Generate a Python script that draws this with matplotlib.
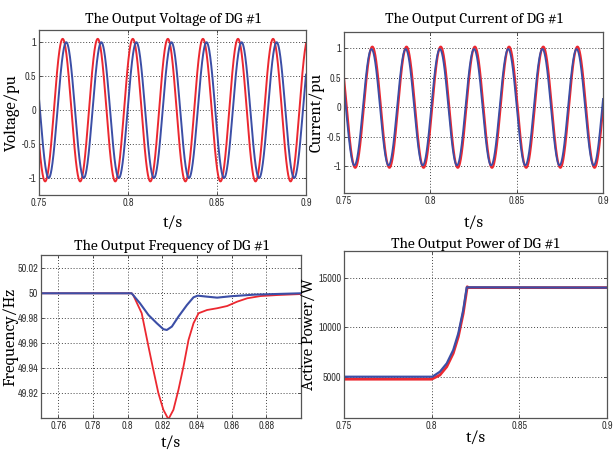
import matplotlib
matplotlib.use("Agg")
import matplotlib.pyplot as plt
import numpy as np

# --- scope traces -------------------------------------------------------
# sinusoids: (amplitude, time of first positive peak, period) per trace
volt_red = dict(amp=1.05, t_peak=0.7633, period=0.0197)
volt_blue = dict(amp=1.00, t_peak=0.7653, period=0.0197)
curr_red = dict(amp=1.03, t_peak=0.7664, period=0.0198)
curr_blue = dict(amp=0.99, t_peak=0.7659, period=0.0198)

freq_t_blue = [0.75, 0.8023, 0.8071, 0.8120, 0.8168, 0.8206, 0.8226, 0.8255,
               0.8293, 0.8342, 0.8380, 0.8404, 0.8458, 0.8516, 0.8593, 0.8728, 0.90]
freq_blue = [50.0, 50.0, 49.992, 49.9826, 49.976, 49.9712, 49.9706, 49.9733,
             49.9813, 49.9906, 49.9968, 49.9981, 49.9973, 49.9965, 49.9976, 49.9989, 50.0]
freq_t_red = [0.75, 0.8023, 0.8032, 0.8081, 0.8120, 0.8148, 0.8177, 0.8206, 0.8235,
              0.8264, 0.8293, 0.8322, 0.8351, 0.8380, 0.8409, 0.8458, 0.8516, 0.8574,
              0.8632, 0.8690, 0.8767, 0.8864, 0.90]
freq_red = [50.0, 50.0, 49.9986, 49.984, 49.9573, 49.9386, 49.920, 49.9066, 49.899,
            49.9066, 49.9226, 49.9413, 49.9626, 49.976, 49.984, 49.9866, 49.988, 49.9898,
            49.9933, 49.996, 49.9978, 49.9986, 49.9994]

pow_t_blue = [0.75, 0.8004, 0.8047, 0.8086, 0.8123, 0.8152, 0.8180, 0.8200, 0.90]
pow_blue = [5000, 5000, 5505, 6350, 7700, 9380, 11740, 14030, 14000]
pow_t_red = [0.75, 0.8000, 0.8047, 0.8086, 0.8123, 0.8152, 0.8180, 0.8203, 0.8210, 0.90]
pow_red = [4750, 4750, 5170, 6010, 7360, 9040, 11400, 14090, 14000, 14000]

titles = ["The Output Voltage of DG #1", "The Output Current of DG #1",
          "The Output Frequency of DG #1", "The Output Power of DG #1"]
ylabels = ["Voltage/pu", "Current/pu", "Frequency/Hz", "Active Power/W"]

RED = "#ec2830"
BLUE = "#3b4ea6"
SERIF = ["Caladea", "DejaVu Serif"]
TICKFONT = ["Pragati Narrow", "PT Sans Narrow", "DejaVu Sans"]

W, H = 615, 451


def wave(p, t):
    return p["amp"] * np.cos(2 * np.pi * (t - p["t_peak"]) / p["period"])


def style(ax, xt, xl, yt, yl, xlim, ylim):
    ax.set_xlim(*xlim)
    ax.set_ylim(*ylim)
    ax.set_xticks(xt)
    ax.set_xticklabels(xl, family=TICKFONT, fontsize=8)
    ax.set_yticks(yt)
    ax.set_yticklabels(yl, family=TICKFONT, fontsize=8)
    ax.grid(True, linestyle=(0, (1, 2)), color="#444444", linewidth=0.7)
    ax.tick_params(direction="in", length=2, width=0.6, colors="#333333",
                   top=True, right=True, pad=2)
    for s in ax.spines.values():
        s.set_color("#555555")
        s.set_linewidth(0.9)


def box(l, t, r, b):
    return [l / W, 1 - b / H, (r - l) / W, (b - t) / H]


fig = plt.figure(figsize=(6.15, 4.51), dpi=100)
ax1 = fig.add_axes(box(39, 30, 306, 195))
ax2 = fig.add_axes(box(344, 32, 603, 193))
ax3 = fig.add_axes(box(41, 255, 301, 418))
ax4 = fig.add_axes(box(344, 251, 607, 418))

t = np.linspace(0.75, 0.9, 3001)

ax1.plot(t, wave(volt_red, t), color=RED, lw=1.4)
ax1.plot(t, wave(volt_blue, t), color=BLUE, lw=1.4)
style(ax1, [0.75, 0.8, 0.85, 0.9], ["0.75", "0.8", "0.85", "0.9"],
      [-1, -0.5, 0, 0.5, 1], ["-1", "-0.5", "0", "0.5", "1"], (0.75, 0.9), (-1.25, 1.18))

ax2.plot(t, wave(curr_red, t), color=RED, lw=1.6)
ax2.plot(t, wave(curr_blue, t), color=BLUE, lw=1.3)
style(ax2, [0.75, 0.8, 0.85, 0.9], ["0.75", "0.8", "0.85", "0.9"],
      [-1, -0.5, 0, 0.5, 1], ["-1", "-0.5", "0", "0.5", "1"], (0.75, 0.9), (-1.46, 1.28))

ax3.plot(freq_t_red, freq_red, color=RED, lw=1.3)
ax3.plot(freq_t_blue, freq_blue, color=BLUE, lw=1.5)
style(ax3, [0.76, 0.78, 0.8, 0.82, 0.84, 0.86, 0.88],
      ["0.76", "0.78", "0.8", "0.82", "0.84", "0.86", "0.88"],
      [49.92, 49.94, 49.96, 49.98, 50.0, 50.02],
      ["49.92", "49.94", "49.96", "49.98", "50", "50.02"], (0.75, 0.9), (49.9, 50.0307))

ax4.plot(pow_t_red, pow_red, color=RED, lw=2.0)
ax4.plot(pow_t_blue, pow_blue, color=BLUE, lw=1.6)
style(ax4, [0.75, 0.8, 0.85, 0.9], ["0.75", "0.8", "0.85", "0.9"],
      [5000, 10000, 15000], ["5000", "10000", "15000"], (0.75, 0.9), (830, 17700))

pads = [5.3, 6.7, 3.6, 2.4]
ylab_x = [-0.072, -0.075, -0.088, -0.105]
xlab_y = [-0.12, -0.137, -0.104, -0.072]

for ax, ti, yl, pd_, yx, xy in zip([ax1, ax2, ax3, ax4], titles, ylabels, pads, ylab_x, xlab_y):
    ax.set_title(ti, family=SERIF, fontsize=11, pad=pd_)
    ax.set_ylabel(yl, family=SERIF, fontsize=12)
    ax.set_xlabel("t/s", family=SERIF, fontsize=12)
    ax.yaxis.set_label_coords(yx, 0.5)
    ax.xaxis.set_label_coords(0.5, xy)

fig.savefig("out.png", dpi=100)
